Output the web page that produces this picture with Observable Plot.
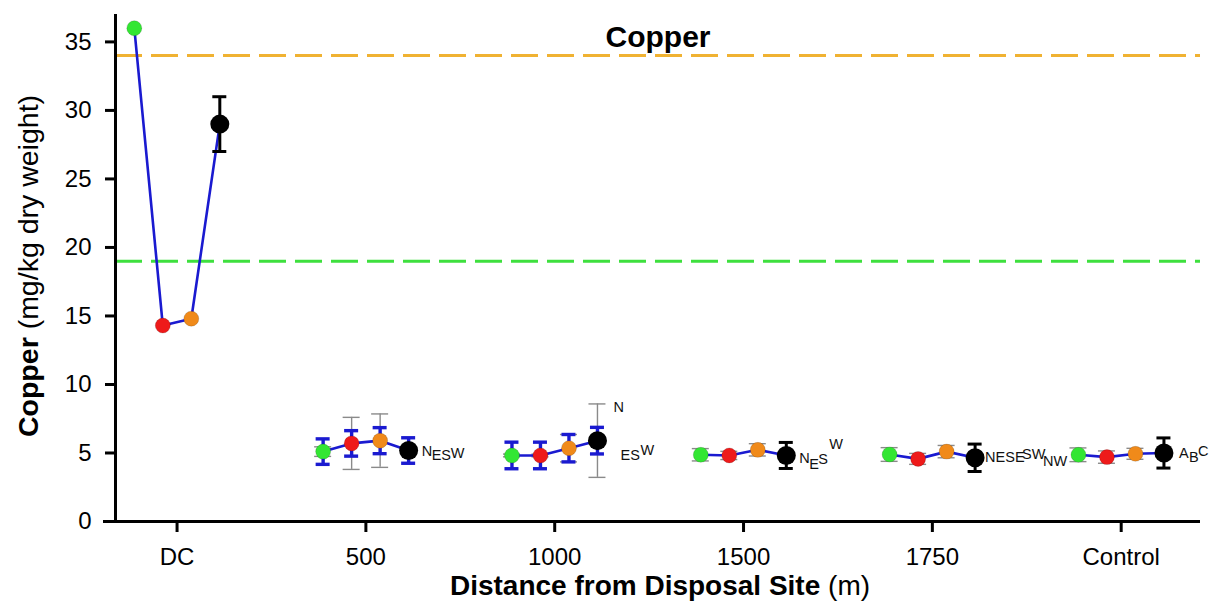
<!DOCTYPE html>
<html><head><meta charset="utf-8">
<script src="https://cdn.jsdelivr.net/npm/d3@7"></script>
<script src="https://cdn.jsdelivr.net/npm/@observablehq/plot@0.6"></script>
<style>body{margin:0;background:#fff} svg{display:block}</style>
</head><body><div id="chart"></div>
<script>
// ---- data ----
const groups = ["DC", "500", "1000", "1500", "1750", "Control"];
const seriesNames = ["Series 1", "Series 2", "Series 3", "Series 4"];
const series1Mean = [36.0, 5.10, 4.82, 4.87, 4.89, 4.87];
const series2Mean = [14.3, 5.70, 4.82, 4.82, 4.57, 4.70];
const series3Mean = [14.8, 5.90, 5.35, 5.23, 5.10, 4.94];
const series4Mean = [29.0, 5.18, 5.90, 4.82, 4.65, 5.00];
// thick error bars
const series1Err = [0, 0.93, 0.97, 0, 0, 0];
const series2Err = [0, 0.93, 0.97, 0, 0, 0];
const series3Err = [0, 0.95, 1.00, 0, 0, 0];
const series4Err = [2.0, 0.93, 0.97, 0.95, 1.0, 1.1];
// thin grey error bars
const series1Err2 = [0, 0.35, 0.10, 0.45, 0.50, 0.50];
const series2Err2 = [0, 1.90, 0.10, 0.30, 0.40, 0.45];
const series3Err2 = [0, 1.95, 1.00, 0.45, 0.45, 0.40];
const series4Err2 = [0, 0, 2.68, 0, 0, 0];
const guidelineValues = [34, 19];
const yTicks = [0, 5, 10, 15, 20, 25, 30, 35];
const letterGroups = ["500", "1000", "1500", "1750", "Control"];
const letterParts = [["N", "ES", "W"], ["N", "ES", "W"], ["N", "E", "S", "W"], ["NESE", "SW", "NW"], ["A", "B", "C"]];

// ---- layout / style ----
const seriesColors = ["#33e633", "#ee1a1a", "#f08a1a", "#000000"];
const guideColors = ["#f0b232", "#3ee03e"];
const blueGroups = ["500", "1000"];
const letterOffsets = [
  [[13, 1], [23, 5], [42, 3]],
  [[16, -33], [23, 15], [43, 10]],
  [[13, 3], [23, 9], [32, 4], [43, -11]],
  [[10, 0], [47, -3], [68, 4]],
  [[15, 0], [25, 4], [34, -2]]
];
const W = 1212, H = 604;
const mL = 115, mR = 12, mT = 14, mB = 83;
const xDomain = [-0.326, 5.42];
const pxPerX = (W - mL - mR) / (xDomain[1] - xDomain[0]);
const off = 28.5 / pxPerX;
const capThick = 7 / pxPerX;
const capThin = 8.5 / pxPerX;

const means = [series1Mean, series2Mean, series3Mean, series4Mean];
const errs = [series1Err, series2Err, series3Err, series4Err];
const errs2 = [series1Err2, series2Err2, series3Err2, series4Err2];

const rows = groups.flatMap((g, i) => seriesNames.map((s, j) => ({
  group: g, gi: i, series: s, si: j,
  x: i + (j - 1.5) * off,
  y: means[j][i], e: errs[j][i], e2: errs2[j][i]
})));

const thin = rows.filter(d => d.e2 > 0);
const thickBlue = rows.filter(d => d.e > 0 && blueGroups.includes(d.group));
const thickBlack = rows.filter(d => d.e > 0 && !blueGroups.includes(d.group));

function errMarks(data, half, key, opts) {
  return [
    Plot.ruleX(data, {x: "x", y1: d => d.y - d[key], y2: d => d.y + d[key], ...opts}),
    Plot.ruleY(data, {y: d => d.y + d[key], x1: d => d.x - half, x2: d => d.x + half, ...opts}),
    Plot.ruleY(data, {y: d => d.y - d[key], x1: d => d.x - half, x2: d => d.x + half, ...opts})
  ];
}

const letterMarks = letterGroups.flatMap((g, k) => {
  const gi = groups.indexOf(g);
  const px = gi + 1.5 * off;
  const py = series4Mean[gi];
  return letterParts[k].map((t, p) => Plot.text([t], {
    x: () => px, y: () => py, text: d => d,
    dx: letterOffsets[k][p][0], dy: letterOffsets[k][p][1],
    textAnchor: "start", fontSize: 14.5, fill: "#111"
  }));
});

const plot = Plot.plot({
  width: W, height: H,
  marginLeft: mL, marginRight: mR, marginTop: mT, marginBottom: mB,
  x: {domain: xDomain},
  y: {domain: [0, 37]},
  color: {type: "ordinal", domain: seriesNames, range: seriesColors},
  style: {fontFamily: "'Liberation Sans', Arial, sans-serif", color: "black", background: "white", overflow: "visible"},
  marks: [
    Plot.ruleY([guidelineValues[0]], {stroke: guideColors[0], strokeWidth: 3, strokeDasharray: "27,9"}),
    Plot.ruleY([guidelineValues[1]], {stroke: guideColors[1], strokeWidth: 3, strokeDasharray: "27,9"}),
    ...errMarks(thin, capThin, "e2", {stroke: "#8a8a8a", strokeWidth: 1.4}),
    Plot.line(rows, {x: "x", y: "y", z: "group", stroke: "#1a1ad0", strokeWidth: 2.6}),
    ...errMarks(thickBlue, capThick, "e", {stroke: "#1a1ad0", strokeWidth: 3.4}),
    ...errMarks(thickBlack, capThick, "e", {stroke: "#000", strokeWidth: 3}),
    Plot.dot(rows.filter(d => d.si < 3), {x: "x", y: "y", r: 7.5, fill: "series", stroke: "#00000030", strokeWidth: 0.8}),
    Plot.dot(rows.filter(d => d.si === 3), {x: "x", y: "y", r: 9.5, fill: "series"}),
    ...letterMarks,
    Plot.axisY({ticks: yTicks, tickSize: 10, tickPadding: 14, fontSize: 24, strokeWidth: 3, label: null}),
    Plot.axisX({ticks: [0, 1, 2, 3, 4, 5], tickFormat: i => groups[i], tickSize: 11, tickPadding: 15, fontSize: 24, strokeWidth: 3, label: null}),
    Plot.ruleX([xDomain[0]], {y1: 0, y2: 37, strokeWidth: 3}),
    Plot.ruleY([0], {x1: xDomain[0] - 12 / pxPerX, x2: xDomain[1], strokeWidth: 3})
  ]
});

const svg = d3.select(plot);
const ff = "'Liberation Sans', Arial, sans-serif";
svg.append("text").attr("x", 658).attr("y", 47).attr("text-anchor", "middle")
  .attr("font-family", ff).attr("font-size", 30).attr("font-weight", "bold").text("Copper");
const yt = svg.append("text").attr("transform", "translate(38,266) rotate(-90)")
  .attr("text-anchor", "middle").attr("font-family", ff).attr("font-size", 28.5);
yt.append("tspan").attr("font-weight", "bold").text("Copper");
yt.append("tspan").text(" (mg/kg dry weight)");
const xt = svg.append("text").attr("x", 660).attr("y", 595)
  .attr("text-anchor", "middle").attr("font-family", ff).attr("font-size", 28);
xt.append("tspan").attr("font-weight", "bold").text("Distance from Disposal Site");
xt.append("tspan").text(" (m)");

document.getElementById("chart").appendChild(plot);
</script>
</body></html>
